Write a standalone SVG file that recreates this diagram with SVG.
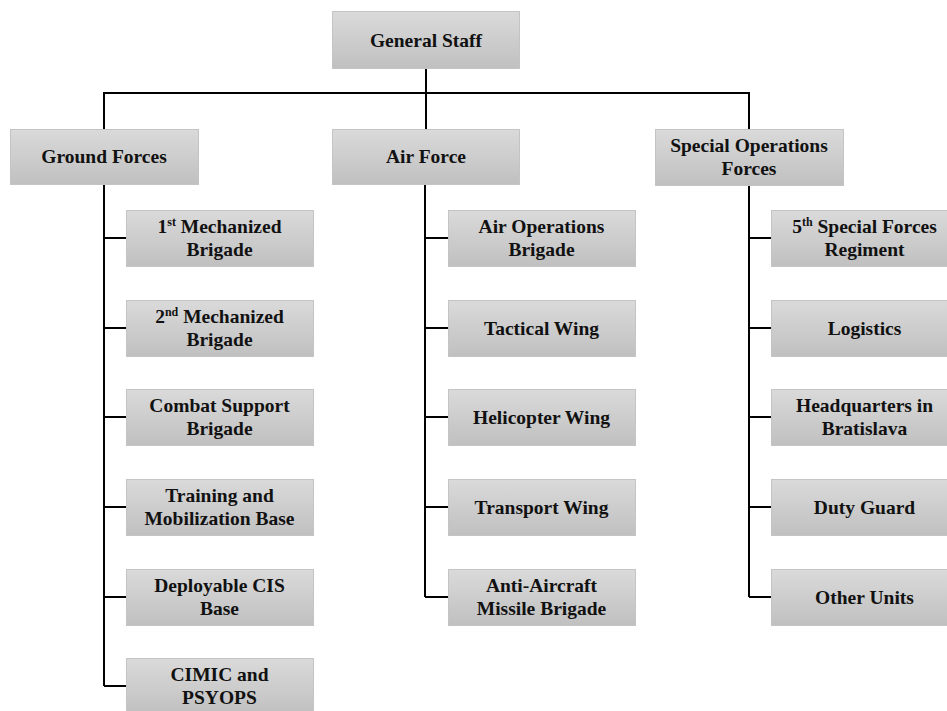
<svg xmlns="http://www.w3.org/2000/svg" width="947" height="711" viewBox="0 0 947 711">
<defs>
<linearGradient id="g" x1="0" y1="0" x2="0" y2="1">
<stop offset="0" stop-color="#dadada"/>
<stop offset="1" stop-color="#c0c0c0"/>
</linearGradient>
</defs>
<style>
.b{fill:url(#g);stroke:#c4c4c4;stroke-width:1}
.t{font-family:"Liberation Serif","Times New Roman",serif;font-weight:bold;font-size:19.5px;fill:#111;text-anchor:middle}
.s{font-size:12px}
.c{stroke:#000;stroke-width:2;fill:none}
</style>
<rect width="947" height="711" fill="#fff"/>
<g id="connectors">
<path class="c" d="M426 68V129M104 129V93H749V129"/>
<path class="c" d="M104 184V686M104 238H126M104 328H126M104 417H126M104 507H126M104 597H126M104 686H126"/>
<path class="c" d="M425 184V597M425 238H448M425 328H448M425 417H448M425 507H448M425 597H448"/>
<path class="c" d="M749 185V597M749 238H771M749 328H771M749 417H771M749 507H771M749 597H771"/>
</g>
<g id="general-staff"><rect class="b" x="332.5" y="11.5" width="187" height="57"/><text class="t" x="426" y="47">General Staff</text></g>
<g id="ground-forces"><rect class="b" x="10.5" y="129.5" width="188" height="55"/><text class="t" x="104" y="163">Ground Forces</text></g>
<g id="air-force"><rect class="b" x="332.5" y="129.5" width="187" height="55"/><text class="t" x="426" y="163">Air Force</text></g>
<g id="sof"><rect class="b" x="655.5" y="129.5" width="188" height="56"/><text class="t" x="749" y="152">Special Operations</text><text class="t" x="749" y="175">Forces</text></g>

<g id="mech1"><rect class="b" x="126.5" y="210.5" width="187" height="56"/><text class="t" x="219.5" y="233">1<tspan class="s" dy="-7">st</tspan><tspan dy="7"> Mechanized</tspan></text><text class="t" x="219.5" y="256">Brigade</text></g>
<g id="mech2"><rect class="b" x="126.5" y="300.5" width="187" height="56"/><text class="t" x="219.5" y="323">2<tspan class="s" dy="-7">nd</tspan><tspan dy="7"> Mechanized</tspan></text><text class="t" x="219.5" y="346">Brigade</text></g>
<g id="combat"><rect class="b" x="126.5" y="389.5" width="187" height="56"/><text class="t" x="219.5" y="412">Combat Support</text><text class="t" x="219.5" y="435">Brigade</text></g>
<g id="training"><rect class="b" x="126.5" y="479.5" width="187" height="56"/><text class="t" x="219.5" y="502">Training and</text><text class="t" x="219.5" y="525">Mobilization Base</text></g>
<g id="cis"><rect class="b" x="126.5" y="569.5" width="187" height="56"/><text class="t" x="219.5" y="592">Deployable CIS</text><text class="t" x="219.5" y="615">Base</text></g>
<g id="cimic"><rect class="b" x="126.5" y="658.5" width="187" height="56"/><text class="t" x="219.5" y="681">CIMIC and</text><text class="t" x="219.5" y="704">PSYOPS</text></g>

<g id="airops"><rect class="b" x="448.5" y="210.5" width="187" height="56"/><text class="t" x="541.5" y="233">Air Operations</text><text class="t" x="541.5" y="256">Brigade</text></g>
<g id="tactical"><rect class="b" x="448.5" y="300.5" width="187" height="56"/><text class="t" x="541.5" y="335">Tactical Wing</text></g>
<g id="heli"><rect class="b" x="448.5" y="389.5" width="187" height="56"/><text class="t" x="541.5" y="424">Helicopter Wing</text></g>
<g id="transport"><rect class="b" x="448.5" y="479.5" width="187" height="56"/><text class="t" x="541.5" y="514">Transport Wing</text></g>
<g id="aa"><rect class="b" x="448.5" y="569.5" width="187" height="56"/><text class="t" x="541.5" y="592">Anti-Aircraft</text><text class="t" x="541.5" y="615">Missile Brigade</text></g>

<g id="sf5"><rect class="b" x="771.5" y="210.5" width="187" height="56"/><text class="t" x="864.5" y="233">5<tspan class="s" dy="-7">th</tspan><tspan dy="7"> Special Forces</tspan></text><text class="t" x="864.5" y="256">Regiment</text></g>
<g id="logistics"><rect class="b" x="771.5" y="300.5" width="187" height="56"/><text class="t" x="864.5" y="335">Logistics</text></g>
<g id="hq"><rect class="b" x="771.5" y="389.5" width="187" height="56"/><text class="t" x="864.5" y="412">Headquarters in</text><text class="t" x="864.5" y="435">Bratislava</text></g>
<g id="duty"><rect class="b" x="771.5" y="479.5" width="187" height="56"/><text class="t" x="864.5" y="514">Duty Guard</text></g>
<g id="other"><rect class="b" x="771.5" y="569.5" width="187" height="56"/><text class="t" x="864.5" y="604">Other Units</text></g>
</svg>
